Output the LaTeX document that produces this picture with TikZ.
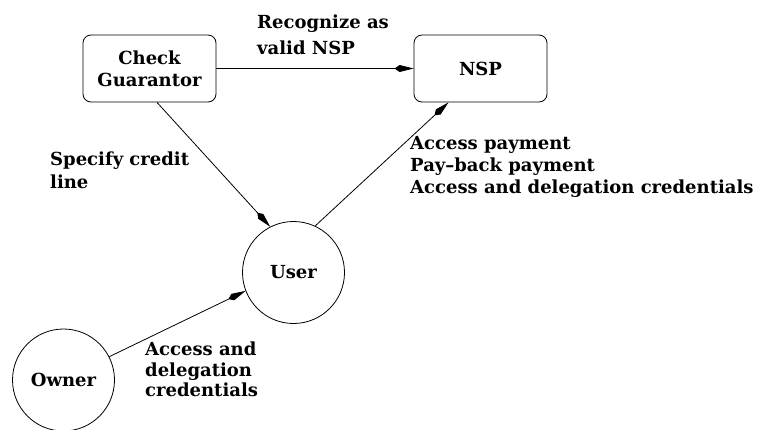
\documentclass[tikz,border=0pt]{standalone}
\usepackage{fontspec}
\setmainfont{DejaVu Serif}
\usetikzlibrary{arrows.meta}
\begin{document}
\begin{tikzpicture}[x=1pt,y=-1pt,
  every node/.style={font=\fontsize{18}{22}\selectfont\bfseries},
  boxnode/.style={draw,line width=0.8pt,rounded corners=8pt,minimum width=133pt,minimum height=67pt,inner sep=0pt,align=center},
  circnode/.style={draw,line width=0.8pt,circle,minimum size=102pt,inner sep=0pt},
  lbl/.style={anchor=north west,inner sep=0pt,align=left},
  conn/.style={line width=0.8pt,-{Kite[length=19pt,width=7pt,inset=5pt]}}]
\useasboundingbox (0,0) rectangle (760,429);
\begin{scope}
\clip (0,0) rectangle (760,429);
\node[boxnode] (cg) at (149.5,68.5) {Check\\Guarantor};
\node[boxnode] (nsp) at (480.5,68.5) {NSP};
\node[circnode] (user) at (293.5,272.5) {User};
\node[circnode] (owner) at (63.5,380) {Owner};
\end{scope}
\draw[conn] (cg.east) -- (nsp.west);
\draw[conn] ([xshift=7.5pt]cg.south) -- (user.117);
\draw[conn] (user.65) -- ([xshift=-32pt]nsp.south);
\draw[conn] (owner.27) -- (user.201);
\node[lbl] (l1) at (257,15) {Recognize as\\[4pt]valid NSP};
\node[lbl] (l2) at (50,152) {Specify credit\\[1pt]line};
\node[lbl] (l3) at (410,136) {Access payment\\Pay--back payment\\Access and delegation credentials};
\node[lbl] (l4) at (145,342) {Access and\\[-1.5pt]delegation\\[-1.5pt]credentials};
\end{tikzpicture}
\end{document}
